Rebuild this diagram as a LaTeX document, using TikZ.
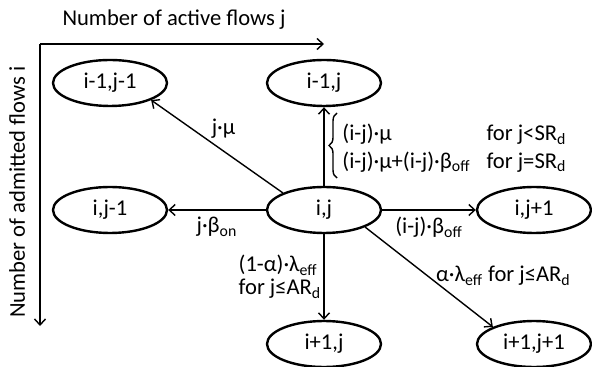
\documentclass[tikz,border=0pt]{standalone}
\usepackage{fontspec}
\setmainfont{Carlito}
\usetikzlibrary{shapes.geometric,decorations.pathreplacing,arrows.meta}
\newcommand{\lsub}[1]{\textsubscript{#1}}
\tikzset{
  state/.style={ellipse,draw,line width=1.2pt,minimum width=57pt,minimum height=23pt,inner sep=0pt},
  trans/.style={-{Straight Barb[length=3pt,width=5.5pt]},line width=0.7pt},
}
\begin{document}
\begin{tikzpicture}[x=0.5pt,y=-0.5pt,font=\fontsize{11.3}{13.6}\selectfont]
\useasboundingbox (0,0) rectangle (592,367);
% axes
\coordinate (origin) at (40,44);
\coordinate (jend) at (324,44);
\coordinate (iend) at (40,326);
\draw[trans] (origin) -- (jend);
\draw[trans] (origin) -- (iend);
\node (jaxis) at (174,20) {Number of active flows j};
\node[rotate=90] (iaxis) at (17,192) {Number of admitted flows i};
% states
\node[state] (im1jm1) at (110,83) {i-1,j-1};
\node[state] (im1j) at (324,83) {i-1,j};
\node[state] (ijm1) at (110,210) {i,j-1};
\node[state] (ij) at (324,210) {i,j};
\node[state] (ijp1) at (534,210) {i,j+1};
\node[state] (ip1j) at (324,344) {i+1,j};
\node[state] (ip1jp1) at (534,344) {i+1,j+1};
% transitions
\draw[trans] (ij.north west) -- node[pos=.45,above=5pt,inner sep=1pt] {j·μ} (im1jm1.south east);
\draw[trans] (ij) -- (im1j);
\draw[trans] (ij) -- node[below] {j·β\lsub{on}} (ijm1);
\draw[trans] (ij) -- node[below] {(i-j)·β\lsub{off}} (ijp1);
\draw[trans] (ij) -- node[left,align=left,inner sep=1pt,font=\fontsize{11.3}{11.6}\selectfont] {(1-α)·λ\lsub{eff}\\for j≤AR\lsub{d}} (ip1j);
\draw[trans] (ij.south east) -- node[pos=.55,anchor=west,inner sep=0pt,yshift=3pt] {α·λ\lsub{eff} for j≤AR\lsub{d}} (ip1jp1.north west);
% rates towards i-1,j
\draw[line width=0.7pt,decorate,decoration={brace,amplitude=4pt}] (337,178) -- (337,113);
\node[anchor=west,inner sep=0pt] (uprate) at (342,149)
  {\begin{tabular}{@{}l@{\hspace{8pt}}l@{}}
   (i-j)·μ & for j<SR\lsub{d}\\
   (i-j)·μ+(i-j)·β\lsub{off} & for j=SR\lsub{d}
   \end{tabular}};
\end{tikzpicture}
\end{document}
